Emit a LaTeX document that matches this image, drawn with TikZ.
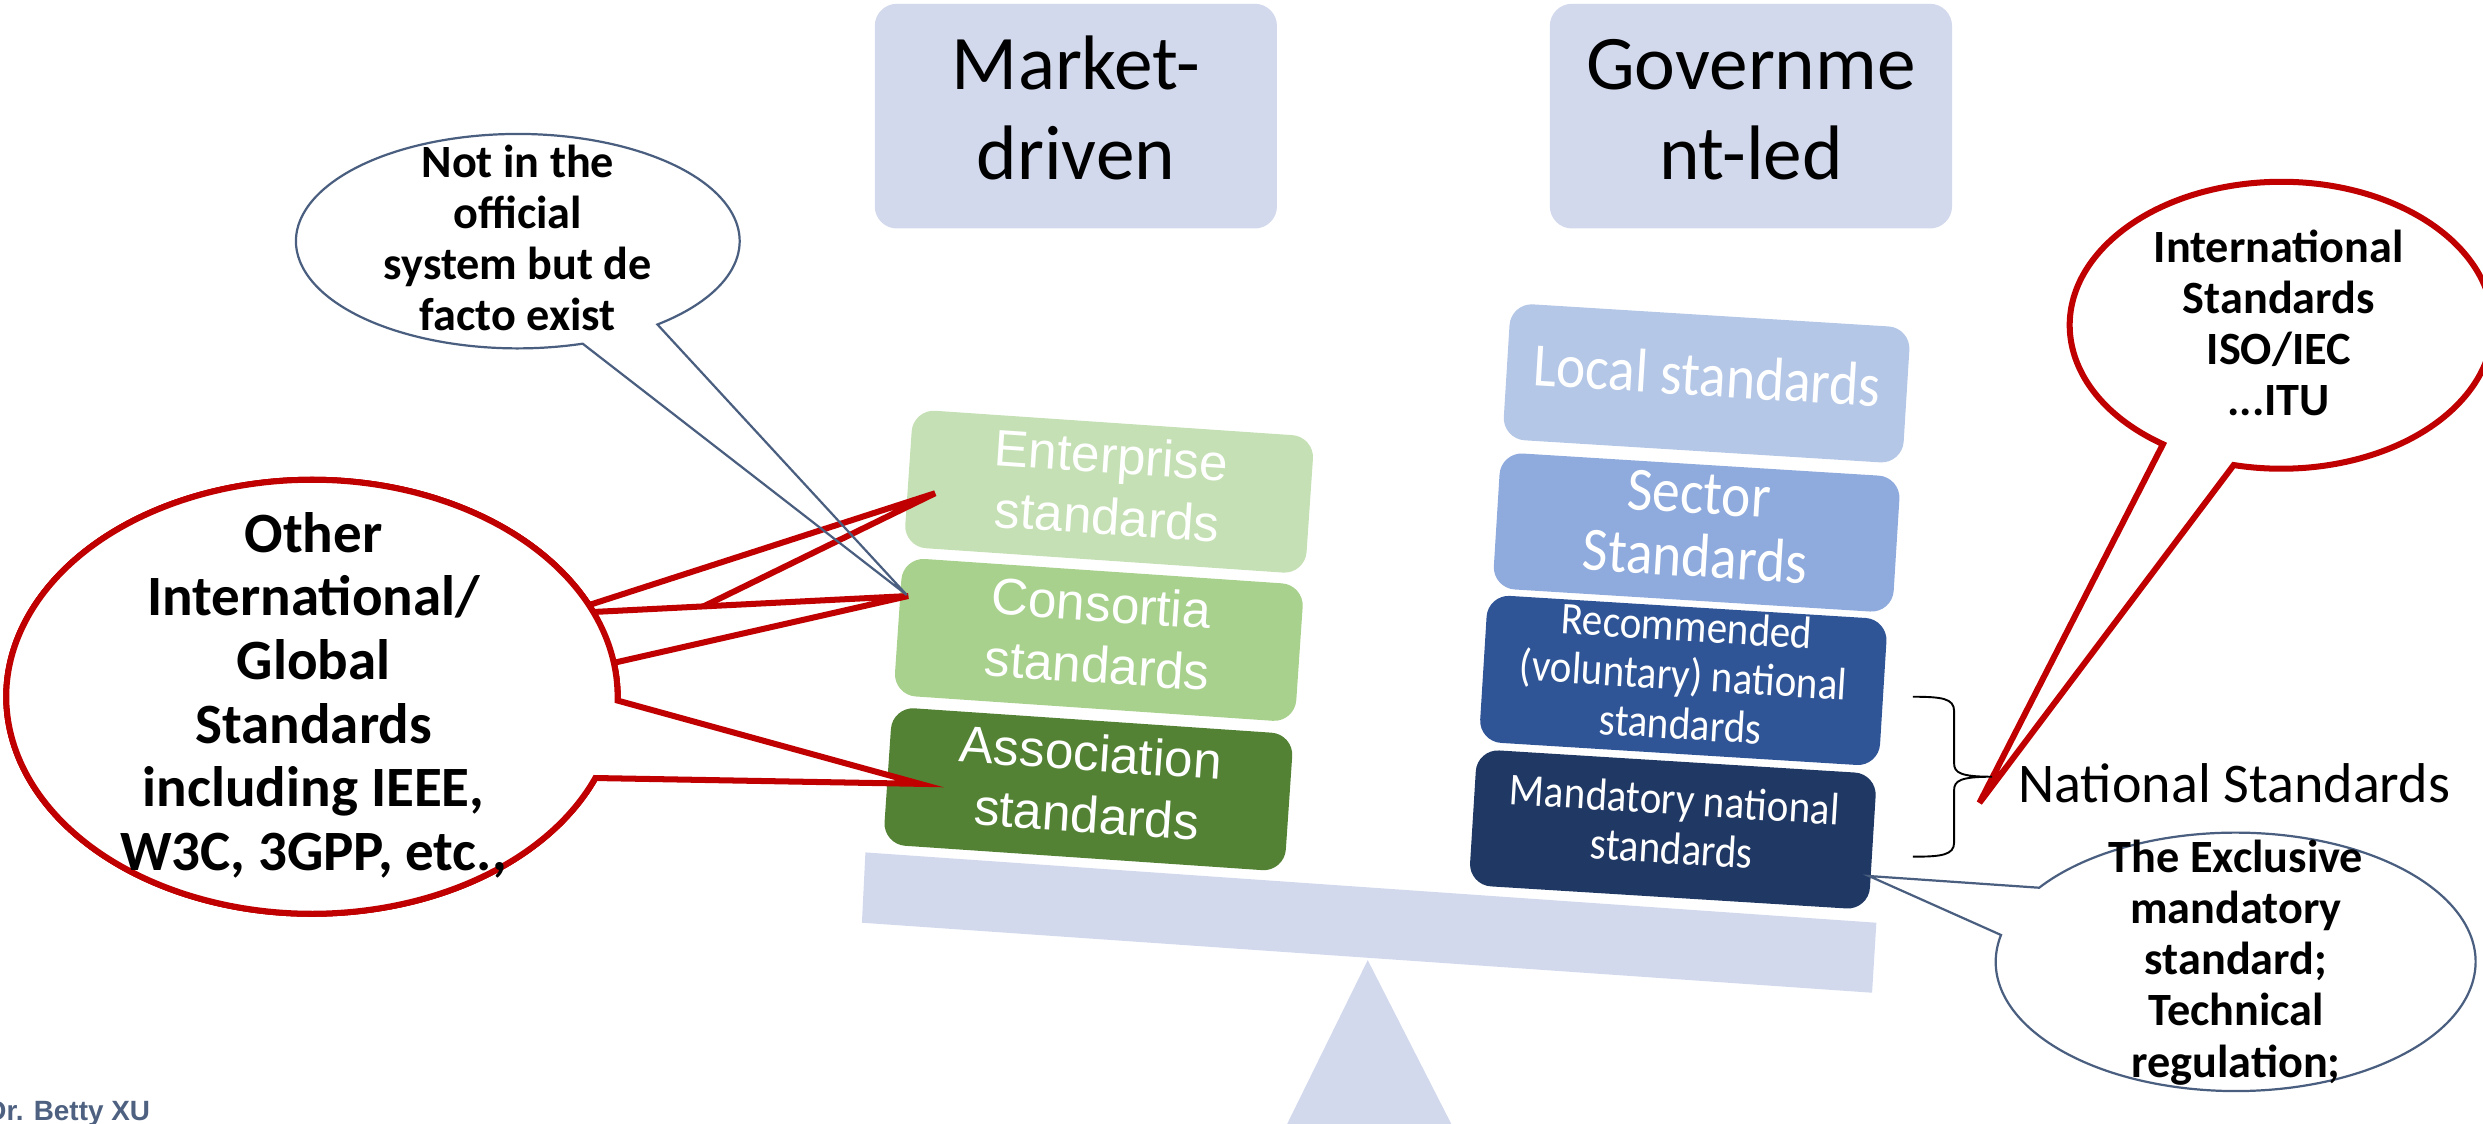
\documentclass[tikz,border=0pt]{standalone}
\usepackage{fontspec}
\setmainfont{Carlito}
\newfontfamily\arialf{Liberation Sans}
\newfontfamily\yahei[FakeStretch=0.9]{Carlito}
\usetikzlibrary{calc}
\definecolor{lav}{HTML}{D3D9EC}
\definecolor{entg}{HTML}{C5E0B4}
\definecolor{cong}{HTML}{A9D18E}
\definecolor{assg}{HTML}{548235}
\definecolor{locb}{HTML}{B4C7E7}
\definecolor{secb}{HTML}{8FAADC}
\definecolor{recb}{HTML}{2F5597}
\definecolor{manb}{HTML}{203864}
\definecolor{cred}{HTML}{C00000}
\definecolor{slate}{HTML}{4A5F80}
\definecolor{drblue}{HTML}{4E6181}
\begin{document}
\begin{tikzpicture}[x=0.5pt,y=-0.5pt,
  topbox/.style={rectangle, rounded corners=7pt, fill=lav, minimum width=127pt, minimum height=70.95pt, inner sep=0pt, align=center, font=\fontsize{24.4}{28.4}\selectfont},
  lbox/.style={rectangle, rounded corners=7pt, minimum width=127pt, minimum height=43.5pt, inner sep=0pt, rotate=-3.9, align=center, text=white, font=\arialf\fontsize{16.2}{19.5}\selectfont},
  rbox/.style={rectangle, rounded corners=7pt, minimum width=126.5pt, minimum height=43pt, inner sep=0pt, rotate=-3.55, align=center, text=white},
  rbig/.style={font=\yahei\fontsize{19.5}{20}\selectfont},
  rsmall/.style={font=\yahei\fontsize{14.4}{15.5}\selectfont},
  redco/.style={draw=cred, line width=1.9pt, fill=white},
  slateco/.style={draw=slate, line width=0.7pt},
  cotext/.style={align=center, inner sep=0pt, font=\bfseries\fontsize{14.6}{16.15}\selectfont},
]
\useasboundingbox (0,0) rectangle (1568,709.8);

% top headings
\node[topbox] (mkt) at (679.4,73.35) {\strut Market-\\driven\strut};
\node[topbox] (gov) at (1105.7,73.35) {\strut Governme\\nt-led\strut};

% balance
\fill[lav] (863.7,606.3) -- (921.7,720) -- (807.8,720) -- cycle;
\fill[lav] (546.5,538.3) -- (1184.9,582.7) -- (1182.2,626.9) -- (544.3,582.7) -- cycle;

% left stack
\node[lbox, fill=entg] (ent) at (700.4,310.5) {\strut Enterprise\\standards\strut};
\node[lbox, fill=cong] (con) at (693.9,404.1) {\strut Consortia\\standards\strut};
\node[lbox, fill=assg] (ass) at (687.3,498.4) {\strut Association\\standards\strut};

% right stack
\node[rbox, rbig, fill=locb] (loc) at (1077.7,242.1) {\strut Local standards\strut};
\node[rbox, rbig, fill=secb] (sec) at (1071.4,336.3) {\strut Sector\\Standards\strut};
\node[rbox, rsmall, fill=recb] (rec) at (1063,429.7) {\strut Recommended\\(voluntary) national\\standards\strut};
\node[rbox, rsmall, fill=manb] (man) at (1056.4,523.8) {\strut Mandatory national\\standards\strut};

% callout: not in the official system
\coordinate (nC) at (327,152.3);
\coordinate (tipN) at (572.6,375.7);
\fill[white] ($(nC)+(51:140.1 and 67.7)$) -- (tipN) -- ($(nC)+(73:140.1 and 67.7)$) arc[start angle=73, end angle=411, x radius=140.1, y radius=67.7] -- cycle;

% red callouts (other international)
\coordinate (oC) at (197,440);
\coordinate (tipA) at (590.5,311.5);
\coordinate (tipB) at (573.5,376.4);
\coordinate (tipC) at (581,495);
\path[redco] ($(oC)+(-25:193 and 137)$) -- (tipA) -- ($(oC)+(-12:193 and 137)$) arc[start angle=-12, end angle=335, x radius=193, y radius=137] -- cycle;
\path[redco] ($(oC)+(-23:193 and 137)$) -- (tipB) -- ($(oC)+(-9:193 and 137)$) arc[start angle=-9, end angle=337, x radius=193, y radius=137] -- cycle;
\path[redco] ($(oC)+(1:193 and 137)$) -- (tipC) -- ($(oC)+(22:193 and 137)$) arc[start angle=22, end angle=361, x radius=193, y radius=137] -- cycle;

\draw[slateco] ($(nC)+(51:140.1 and 67.7)$) -- (tipN) -- ($(nC)+(73:140.1 and 67.7)$) arc[start angle=73, end angle=411, x radius=140.1, y radius=67.7] -- cycle;

% red callout (international standards)
\coordinate (iC) at (1440.6,205.4);
\coordinate (tipI) at (1250,507);
\path[redco] ($(iC)+(103:133.6 and 90.6)$) -- (tipI) -- ($(iC)+(124:133.6 and 90.6)$) arc[start angle=124, end angle=463, x radius=133.6, y radius=90.6] -- cycle;

% brace
\draw[black, line width=0.6pt] (1208,440) .. controls (1226,440) and (1234,441) .. (1234,449) -- (1234,482) .. controls (1234,488) and (1238,490.5) .. (1258,490.5) .. controls (1238,490.5) and (1234,493) .. (1234,499) -- (1234,532) .. controls (1234,540) and (1226,541) .. (1208,541);

% slate callout (exclusive mandatory)
\coordinate (eC) at (1411.8,607.4);
\coordinate (tipM) at (1180.2,553.2);
\path[slateco, fill=white] ($(eC)+(215:151.5 and 81.6)$) -- (tipM) -- ($(eC)+(192:151.5 and 81.6)$) arc[start angle=192, end angle=-145, x radius=151.5, y radius=81.6] -- cycle;

% texts
\node[cotext] (notxt) at (327,154) {\strut Not in the\\official\\system but de\\facto exist\strut};
\node[cotext] (intxt) at (1439,207.5) {\strut International\\Standards\\ISO/IEC\\...ITU\strut};
\node[cotext] (extxt) at (1412,609.1) {\strut The Exclusive\\mandatory\\standard;\\Technical\\regulation;\strut};
\node[cotext, font=\bfseries\fontsize{18}{20.1}\selectfont] (othtxt) at (198,441.1) {\strut Other\\International/\\Global\\Standards\\including IEEE,\\W3C, 3GPP, etc.,\strut};
\node[anchor=base west, inner sep=0pt, font=\fontsize{17.7}{21}\selectfont] (natxt) at (1274.2,506.9) {National Standards};
\node[anchor=base west, inner sep=0pt, text=drblue, font=\arialf\bfseries\fontsize{8.8}{10}\selectfont] (dr) at (-9,707.3) {Dr. Betty XU};
\end{tikzpicture}
\end{document}
